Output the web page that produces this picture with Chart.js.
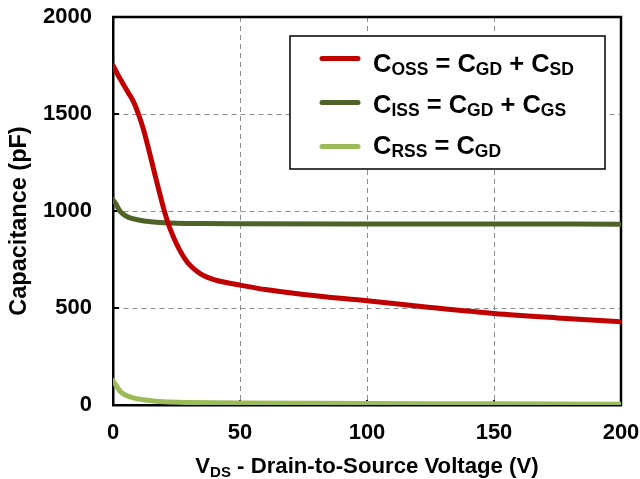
<!DOCTYPE html>
<html>
<head>
<meta charset="utf-8">
<title>Capacitance vs VDS</title>
<script src="https://cdn.jsdelivr.net/npm/chart.js@4.4.1/dist/chart.umd.min.js"></script>
<style>
  html, body { margin: 0; padding: 0; background: #fff; }
  #wrap { width: 640px; height: 479px; }
</style>
</head>
<body>
<div id="wrap"><canvas id="capChart" width="640" height="479"></canvas></div>
<script>
// Values (pF vs V)
const vdsCoss = [0, 2, 4, 6, 8, 10, 12, 14, 16, 18, 20, 22, 24, 26, 28, 30, 33, 36, 40, 45, 50, 60, 75, 100, 125, 150, 175, 200];
const coss    = [1750, 1700, 1655, 1610, 1565, 1500, 1420, 1320, 1215, 1110, 1010, 925, 860, 805, 760, 725, 690, 665, 645, 630, 618, 595, 570, 537, 503, 472, 449, 429];

const vdsCiss = [0, 1, 2, 3, 5, 7, 10, 15, 20, 25, 35, 50, 100, 150, 200];
const ciss    = [1057, 1040, 1015, 995, 975, 963, 954, 945, 940, 937, 935, 934, 933, 933, 932];

const vdsCrss = [0, 1, 2, 3, 5, 8, 12, 16, 20, 30, 40, 50, 100, 150, 200];
const crss    = [125, 105, 85, 68, 50, 37, 27, 21, 17, 13, 11, 10, 8, 6, 4];

const xTicks = [0, 50, 100, 150, 200];
const yTicks = [0, 500, 1000, 1500, 2000];

// legend labels as [text, isSubscript] pieces
const cossLabel = [['C', 0], ['OSS', 1], [' = C', 0], ['GD', 1], [' + C', 0], ['SD', 1]];
const cissLabel = [['C', 0], ['ISS', 1], [' = C', 0], ['GD', 1], [' + C', 0], ['GS', 1]];
const crssLabel = [['C', 0], ['RSS', 1], [' = C', 0], ['GD', 1]];
const xTitle = [['V', 0], ['DS', 1], [' - Drain-to-Source Voltage (V)', 0]];
const yTitle = 'Capacitance (pF)';

const FONT = "'Liberation Sans', Arial, Helvetica, sans-serif";
Chart.defaults.font.family = FONT;

const toPoints = (xs, ys) => xs.map((v, i) => ({ x: v, y: ys[i] }));

// draws text with subscript pieces, returns end x
const drawRich = (ctx, parts, x, y, big, small, drop) => {
  parts.forEach(([txt, sub]) => {
    ctx.font = `bold ${sub ? small : big}px ${FONT}`;
    ctx.fillText(txt, x, sub ? y + drop : y);
    x += ctx.measureText(txt).width;
  });
  return x;
};
const richWidth = (ctx, parts, big, small) => {
  let w = 0;
  parts.forEach(([txt, sub]) => {
    ctx.font = `bold ${sub ? small : big}px ${FONT}`;
    w += ctx.measureText(txt).width;
  });
  return w;
};

// top/right frame + little inward tick marks
const framePlugin = {
  id: 'frame',
  beforeDatasetsDraw(chart) {
    const { ctx, chartArea: a, scales: { x, y } } = chart;
    ctx.save();
    ctx.strokeStyle = '#000';
    ctx.lineWidth = 2.5;
    ctx.beginPath();
    ctx.moveTo(a.left - 1, a.top);
    ctx.lineTo(a.right, a.top);
    ctx.lineTo(a.right, a.bottom + 1);
    ctx.stroke();

    ctx.lineWidth = 2;
    ctx.beginPath();
    x.ticks.forEach(t => {
      if (t.value <= x.min || t.value >= x.max) return;
      const px = x.getPixelForValue(t.value);
      ctx.moveTo(px, a.bottom);
      ctx.lineTo(px, a.bottom - 5);
    });
    y.ticks.forEach(t => {
      if (t.value <= y.min || t.value >= y.max) return;
      const py = y.getPixelForValue(t.value);
      ctx.moveTo(a.left, py);
      ctx.lineTo(a.left + 6, py);
    });
    ctx.stroke();
    ctx.restore();
  }
};

// axis titles and the boxed legend (need subscripts, so drawn by hand)
const annotatePlugin = {
  id: 'annotate',
  afterDraw(chart) {
    const { ctx, chartArea: a } = chart;
    ctx.save();
    ctx.fillStyle = '#000';
    ctx.textBaseline = 'alphabetic';
    ctx.textAlign = 'left';

    // x title
    const w = richWidth(ctx, xTitle, 22.2, 15);
    drawRich(ctx, xTitle, (a.left + a.right) / 2 - w / 2, 472.5, 22.2, 15, 4);

    // y title
    ctx.save();
    ctx.translate(20, 221);
    ctx.rotate(-Math.PI / 2);
    ctx.textAlign = 'center';
    ctx.textBaseline = 'middle';
    ctx.font = `bold 23.5px ${FONT}`;
    ctx.fillText(yTitle, 0, 0);
    ctx.restore();

    // legend box
    const box = { left: 290, top: 36, right: 605, bottom: 169 };
    ctx.fillStyle = '#fff';
    ctx.fillRect(box.left, box.top, box.right - box.left, box.bottom - box.top);
    ctx.strokeStyle = '#000';
    ctx.lineWidth = 1.5;
    ctx.strokeRect(box.left, box.top, box.right - box.left, box.bottom - box.top);

    const labels = [cossLabel, cissLabel, crssLabel];
    chart.data.datasets.forEach((ds, i) => {
      const ly = box.top + 22.5 + i * 44;
      ctx.strokeStyle = ds.borderColor;
      ctx.lineWidth = 5;
      ctx.lineCap = 'round';
      ctx.beginPath();
      ctx.moveTo(322, ly);
      ctx.lineTo(358, ly);
      ctx.stroke();
      ctx.fillStyle = '#000';
      drawRich(ctx, labels[i], 373, box.top + 35.5 + i * 41, 25.5, 17.5, 3.5);
    });
    ctx.restore();
  }
};

const axisFont = { size: 22, weight: 'bold' };
const gridOpts = { color: '#8c8c8c', lineWidth: 1, drawTicks: false };
const borderOpts = { display: true, color: '#000', width: 2.5, dash: [5, 4] };

new Chart(document.getElementById('capChart'), {
  type: 'line',
  data: {
    datasets: [
      {
        label: 'COSS = CGD + CSD',
        data: toPoints(vdsCoss, coss),
        borderColor: '#c00000',
        borderWidth: 5
      },
      {
        label: 'CISS = CGD + CGS',
        data: toPoints(vdsCiss, ciss),
        borderColor: '#4f6228',
        borderWidth: 5
      },
      {
        label: 'CRSS = CGD',
        data: toPoints(vdsCrss, crss),
        borderColor: '#9bbb59',
        borderWidth: 5
      }
    ]
  },
  options: {
    responsive: false,
    animation: false,
    devicePixelRatio: 1,
    layout: { padding: { top: 17, right: 19, left: 0, bottom: 0 } },
    elements: {
      point: { radius: 0 },
      line: { cubicInterpolationMode: 'monotone', fill: false, borderCapStyle: 'round' }
    },
    plugins: {
      legend: { display: false },
      tooltip: { enabled: false }
    },
    scales: {
      x: {
        type: 'linear',
        min: 0,
        max: 200,
        afterBuildTicks: s => { s.ticks = xTicks.map(v => ({ value: v })); },
        afterFit: s => { s.height = 74; s.paddingLeft = 0; s.paddingRight = 0; },
        ticks: { font: axisFont, color: '#000', padding: 15, maxRotation: 0, callback: v => String(v) },
        grid: gridOpts,
        border: borderOpts
      },
      y: {
        type: 'linear',
        min: 0,
        max: 2000,
        afterBuildTicks: s => { s.ticks = yTicks.map(v => ({ value: v })); },
        afterFit: s => { s.width = 113; s.paddingTop = 0; s.paddingBottom = 0; },
        ticks: { font: axisFont, color: '#000', padding: 21, callback: v => String(v) },
        grid: gridOpts,
        border: borderOpts
      }
    }
  },
  plugins: [framePlugin, annotatePlugin]
});
</script>
</body>
</html>
